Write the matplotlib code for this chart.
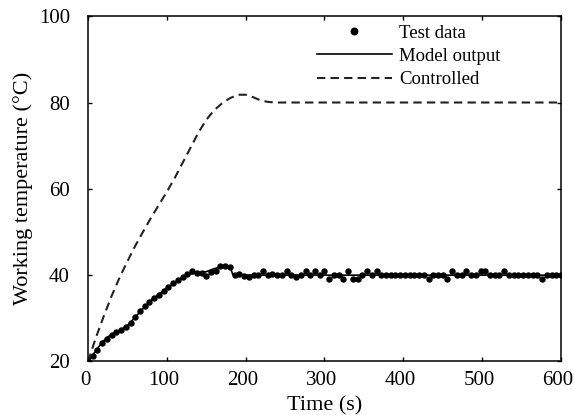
import matplotlib
matplotlib.use("Agg")
import matplotlib.pyplot as plt
import matplotlib.transforms as mtrans

plt.rcParams['font.family'] = ['Liberation Serif', 'DejaVu Serif']

# test data, one point every 6 s
test_t = list(range(0, 601, 6))
test_T = [20.0, 21.3, 22.6, 24.3, 25.3, 26.2, 26.9, 27.4, 27.9, 29.0,
          30.2, 31.6, 32.8, 33.8, 34.8, 35.5, 36.4, 37.3, 38.1, 38.8,
          39.6, 40.3, 41.0, 40.4, 40.6, 39.8, 40.8, 41.0, 42.1, 42.2,
          42.0, 40.0, 40.2, 39.8, 39.6, 40.0, 40.1, 41.0, 40.0, 40.2,
          40.0, 40.1, 41.0, 40.0, 39.5, 40.0, 41.0, 40.0, 41.0, 40.0,
          41.0, 39.0, 40.0, 40.0, 39.0, 41.0, 39.2, 39.2, 40.0, 41.0,
          40.0, 41.0, 40.0, 40.0, 40.0, 40.0, 40.0, 40.0, 40.0, 40.0,
          40.0, 40.0, 39.0, 40.0, 40.0, 40.0, 39.0, 41.0, 40.0, 40.0,
          41.0, 40.0, 40.0, 41.0, 41.0, 40.0, 40.0, 40.0, 41.0, 40.0,
          40.0, 40.0, 40.0, 40.0, 40.0, 40.0, 39.0, 40.0, 40.0, 40.0,
          40.0]

# model output
model_t = [0, 6, 12, 18, 24, 30, 40, 50, 60, 70, 80, 90, 100, 110, 120,
           130, 140, 150, 160, 170, 180, 184, 190, 600]
model_T = [20, 21.5, 23, 24.5, 25.5, 26.3, 27.2, 28.3, 30.3, 32.3, 34.2,
           35.6, 37, 38.3, 39.5, 40.3, 40.5, 40.8, 41.5, 42, 42, 40, 40, 40]

# controlled
ctrl_t = [0, 10, 20, 30, 40, 50, 60, 70, 80, 90, 100, 110, 120, 130, 140,
          150, 160, 170, 180, 190, 200, 210, 220, 230, 240, 600]
ctrl_T = [20, 25.5, 30.5, 35.2, 39.4, 43.2, 46.8, 50.1, 53.3, 56.3, 59.3,
          62.5, 66, 69.5, 73, 76, 78.2, 79.8, 81, 81.8, 81.8, 81.2, 80.4,
          80.1, 80, 80]

fig = plt.figure(figsize=(5.74, 4.15), dpi=100)
ax = fig.add_axes([0.1533, 0.129, 0.824, 0.832])

ax.plot(test_t, test_T, 'o', color='black', markersize=3.6, label='Test data')
ax.plot(model_t, model_T, '-', color='black', linewidth=1.2, label='Model output')
ax.plot(ctrl_t, ctrl_T, color='#222222', linewidth=1.5,
        linestyle=(0, (4, 2.5)), label='Controlled')

ax.set_xlim(0, 600)
ax.set_ylim(20, 100)
ax.set_xticks([0, 100, 200, 300, 400, 500, 600])
ax.set_yticks([20, 40, 60, 80, 100])
ax.tick_params(direction='in', length=3, width=1, top=True, right=True,
               labelsize=15)
ax.tick_params(axis='y', pad=13)
ax.tick_params(axis='x', pad=7)
for s in ax.spines.values():
    s.set_linewidth(1.1)

# x tick labels sit a little to the left of their ticks
shift = mtrans.ScaledTranslation(-3 / 100, 0, fig.dpi_scale_trans)
for lab in ax.get_xticklabels():
    lab.set_transform(lab.get_transform() + shift)

ax.set_xlabel('Time (s)', fontsize=16, labelpad=4)
ax.set_ylabel('Working temperature (°C)', fontsize=16, labelpad=4)

ax.legend(loc='upper left', bbox_to_anchor=(0.4835, 0.976), frameon=False,
          fontsize=13.5, handlelength=4.0, handletextpad=0.4,
          labelspacing=0.33, borderpad=0, borderaxespad=0, markerscale=1.3)

fig.savefig('out.png', dpi=100)
